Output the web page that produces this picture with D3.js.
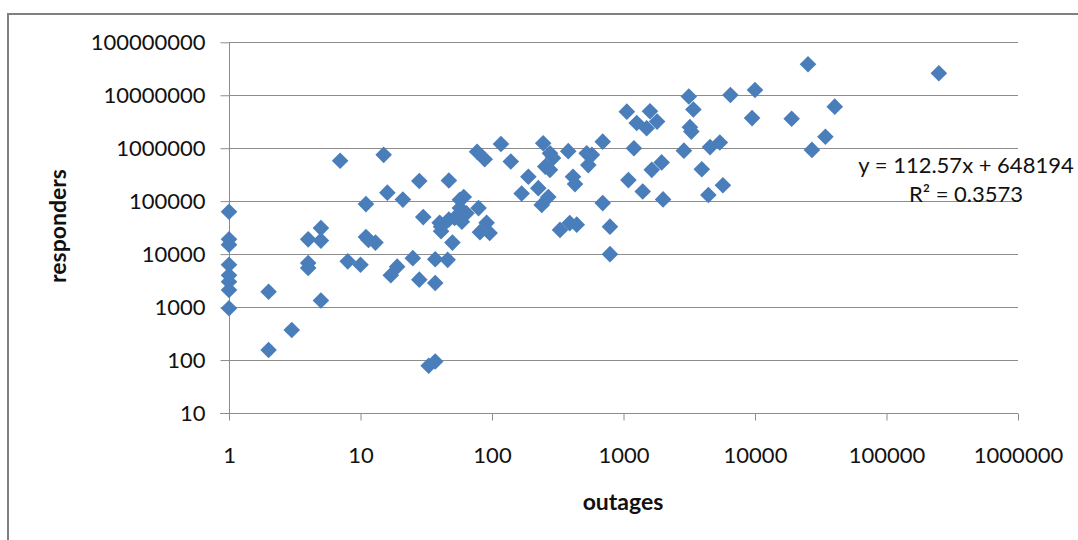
<!DOCTYPE html>
<html>
<head>
<meta charset="utf-8">
<script src="https://cdn.jsdelivr.net/npm/d3@7"></script>
<style>
  html, body { margin: 0; padding: 0; background: #fff; }
  svg { display: block; }
  text { font-family: Lato, "Open Sans", sans-serif; fill: #111; }
</style>
</head>
<body>
<svg id="chart" width="1078" height="540"></svg>
<script>
// ---- data ----
const outages = [
  1, 1, 1, 1, 1, 1, 1, 1,
  2, 2, 3, 4, 4, 4, 5, 5, 5, 7, 8, 10,
  11, 11, 11.5, 13, 15, 16, 17, 19, 21, 25,
  28, 28, 30, 33, 37, 37, 37, 41, 41, 40,
  46, 47, 47, 50, 52, 57, 61, 57, 59, 64,
  77, 88, 79, 81, 96, 91, 117, 139, 168, 189,
  225, 239, 268, 245, 276, 291, 254, 276, 329, 390,
  441, 380, 413, 428, 525, 575, 540, 695, 695, 789,
  789, 1060, 1200, 1260, 1500, 1590, 1800, 1090, 1400, 1640,
  1950, 2000, 2880, 3140, 3400, 3200, 3280, 3940, 4420, 4550,
  5400, 5700, 6500, 10000, 9500, 19000, 25300, 40400, 34300, 27100,
  250000
];
const responders = [
  63000, 19000, 15000, 6300, 4000, 3000, 2100, 950,
  1950, 155, 370, 19000, 6800, 5500, 31000, 18000, 1330, 580000, 7300, 6300,
  88000, 21000, 18500, 16500, 750000, 145000, 4000, 5800, 107000, 8400,
  240000, 3300, 50000, 78, 94, 8000, 2850, 33000, 27000, 39000,
  7800, 245000, 45000, 16500, 48000, 106000, 120000, 74000, 41000, 59000,
  860000, 620000, 74000, 26000, 25000, 39000, 1200000, 560000, 140000, 290000,
  176000, 85000, 120000, 1240000, 800000, 650000, 450000, 390000, 28700, 38500,
  36000, 880000, 290000, 210000, 800000, 750000, 480000, 1330000, 92000, 33000,
  10000, 4900000, 1000000, 3000000, 2380000, 5000000, 3180000, 250000, 152000, 390000,
  540000, 108000, 900000, 9500000, 5400000, 2500000, 2060000, 400000, 131000, 1050000,
  1280000, 200000, 10100000, 12600000, 3700000, 3600000, 38500000, 6100000, 1650000, 930000,
  26000000
];
const xTickValues = [1, 10, 100, 1000, 10000, 100000, 1000000];
const yTickValues = [10, 100, 1000, 10000, 100000, 1000000, 10000000, 100000000];
const xTitle = "outages";
const yTitle = "responders";
const trendLines = ["y = 112.57x + 648194", "R² = 0.3573"];

// ---- drawing ----
const svg = d3.select("#chart");
const pLeft = 229, pRight = 1018, pTop = 42.3, pBottom = 413;

// chart frame (extends beyond the window on right/bottom)
svg.append("rect")
  .attr("x", 8).attr("y", 14).attr("width", 1200).attr("height", 700)
  .attr("fill", "#fff").attr("stroke", "#808080").attr("stroke-width", 2);

const x = d3.scaleLog().domain([1, 1e6]).range([pLeft, pRight]);
const y = d3.scaleLog().domain([10, 1e8]).range([pBottom, pTop]);

// horizontal gridlines
svg.append("g").selectAll("line")
  .data(yTickValues.filter(v => v !== 10))
  .join("line")
  .attr("x1", pLeft).attr("x2", pRight)
  .attr("y1", d => Math.round(y(d)) + 0.5).attr("y2", d => Math.round(y(d)) + 0.5)
  .attr("stroke", "#8c8c8c").attr("stroke-width", 1);

// y axis
const yAxis = d3.axisLeft(y).tickValues(yTickValues).tickFormat(d3.format("d"))
  .tickSize(9).tickPadding(15);
const gy = svg.append("g").attr("transform", `translate(${pLeft + 0.5},0)`).call(yAxis);
gy.select(".domain").attr("stroke", "#8c8c8c").attr("d", `M0,${pTop}V${pBottom + 7}`);
gy.selectAll(".tick line").attr("stroke", "#8c8c8c");
gy.selectAll(".tick text").attr("font-size", 22).attr("font-family", "Lato, sans-serif").attr("fill", "#111");

// x axis
const xAxis = d3.axisBottom(x).tickValues(xTickValues).tickFormat(d3.format("d"))
  .tickSize(7).tickPadding(27);
const gx = svg.append("g").attr("transform", `translate(0,${Math.round(pBottom) + 0.5})`).call(xAxis);
gx.select(".domain").attr("stroke", "#8c8c8c").attr("d", `M${pLeft - 9},0H${pRight}`);
gx.selectAll(".tick line").attr("stroke", "#8c8c8c");
gx.selectAll(".tick text").attr("font-size", 22).attr("font-family", "Lato, sans-serif").attr("fill", "#111");

// points (diamonds)
const r = 8.3;
const diamond = `M0,${-r}L${r},0L0,${r}L${-r},0Z`;
svg.append("g").selectAll("path")
  .data(outages.map((o, i) => [o, responders[i]]))
  .join("path")
  .attr("d", diamond)
  .attr("transform", d => `translate(${x(d[0])},${y(d[1])})`)
  .attr("fill", "#4A7EBB");

// axis titles
svg.append("text")
  .attr("transform", "translate(66,226) rotate(-90)")
  .attr("text-anchor", "middle")
  .attr("font-size", 23).attr("font-weight", "bold")
  .text(yTitle);
svg.append("text")
  .attr("x", 623).attr("y", 510)
  .attr("text-anchor", "middle")
  .attr("font-size", 23).attr("font-weight", "bold")
  .text(xTitle);

// trendline label
svg.append("g").selectAll("text")
  .data(trendLines)
  .join("text")
  .attr("x", 966).attr("y", (d, i) => 173 + i * 29)
  .attr("text-anchor", "middle")
  .attr("font-size", 22)
  .text(d => d);
</script>
</body>
</html>
